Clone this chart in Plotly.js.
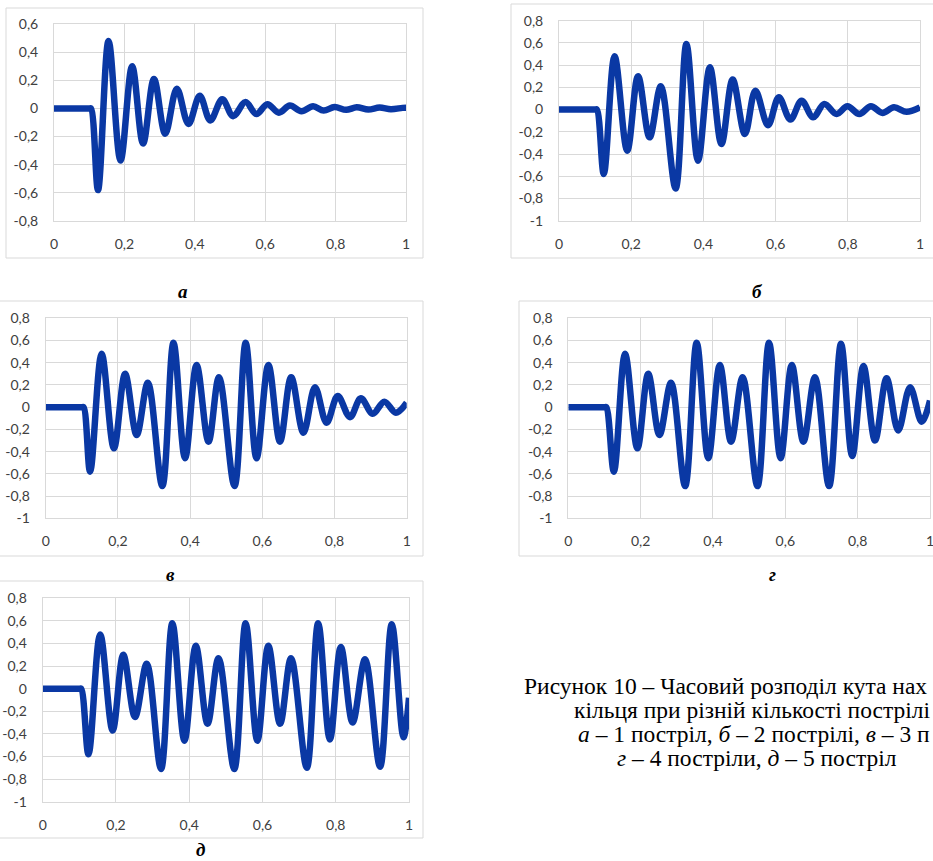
<!DOCTYPE html>
<html>
<head>
<meta charset="utf-8">
<script src="https://cdn.plot.ly/plotly-3.0.1.min.js"></script>
<style>html,body{margin:0;padding:0;background:#fff;}#chart{width:933px;height:861px;}</style>
</head>
<body>
<div id="chart"></div>
<script>
// ---- data (extrema of each curve) ----
const tA = [0, 0.05, 0.1, 0.105, 0.125, 0.155, 0.189, 0.222, 0.253, 0.284, 0.316, 0.349, 0.382, 0.414, 0.444, 0.478, 0.509, 0.544, 0.575, 0.606, 0.639, 0.670, 0.703, 0.736, 0.766, 0.797, 0.830, 0.860, 0.893, 0.925, 0.957, 0.99, 1.0];
const yA = [0, 0, 0, 0, -0.58, 0.48, -0.37, 0.30, -0.25, 0.21, -0.18, 0.14, -0.11, 0.09, -0.085, 0.065, -0.055, 0.045, -0.04, 0.03, -0.03, 0.02, -0.02, 0.015, -0.015, 0.01, -0.01, 0.008, -0.008, 0.006, -0.006, 0.004, 0.005];

const tB = [0, 0.05, 0.1, 0.105, 0.124, 0.154, 0.189, 0.219, 0.251, 0.282, 0.323, 0.353, 0.385, 0.418, 0.45, 0.481, 0.515, 0.544, 0.579, 0.609, 0.641, 0.672, 0.704, 0.735, 0.769, 0.799, 0.832, 0.864, 0.896, 0.928, 0.963, 1.0];
const yB = [0, 0, 0, 0, -0.58, 0.48, -0.37, 0.30, -0.25, 0.21, -0.71, 0.59, -0.46, 0.38, -0.31, 0.27, -0.22, 0.17, -0.14, 0.11, -0.09, 0.08, -0.07, 0.05, -0.04, 0.03, -0.04, 0.03, -0.03, 0.02, -0.02, 0.02];

const tC = [0, 0.05, 0.1, 0.105, 0.123, 0.155, 0.189, 0.22, 0.252, 0.283, 0.323, 0.354, 0.386, 0.418, 0.451, 0.48, 0.523, 0.554, 0.584, 0.617, 0.649, 0.68, 0.714, 0.746, 0.778, 0.809, 0.843, 0.873, 0.906, 0.938, 0.97, 1.0];
const yC = [0, 0, 0, 0, -0.58, 0.48, -0.37, 0.30, -0.25, 0.22, -0.71, 0.58, -0.46, 0.38, -0.31, 0.27, -0.71, 0.58, -0.46, 0.38, -0.31, 0.27, -0.23, 0.18, -0.14, 0.10, -0.09, 0.08, -0.06, 0.05, -0.05, 0.04];

const tD = [0, 0.05, 0.1, 0.105, 0.126, 0.157, 0.191, 0.221, 0.252, 0.284, 0.323, 0.355, 0.387, 0.419, 0.45, 0.482, 0.523, 0.555, 0.587, 0.618, 0.65, 0.682, 0.721, 0.754, 0.785, 0.816, 0.848, 0.88, 0.912, 0.945, 0.977, 1.0];
const yD = [0, 0, 0, 0, -0.58, 0.48, -0.37, 0.30, -0.25, 0.22, -0.71, 0.58, -0.46, 0.38, -0.31, 0.27, -0.71, 0.58, -0.46, 0.38, -0.31, 0.27, -0.71, 0.57, -0.44, 0.37, -0.30, 0.26, -0.21, 0.18, -0.13, 0.06];

const tE = [0, 0.05, 0.1, 0.105, 0.125, 0.157, 0.191, 0.22, 0.252, 0.284, 0.323, 0.354, 0.387, 0.418, 0.45, 0.48, 0.523, 0.554, 0.586, 0.616, 0.648, 0.678, 0.721, 0.752, 0.784, 0.814, 0.846, 0.88, 0.921, 0.953, 0.985, 1.0];
const yE = [0, 0, 0, 0, -0.58, 0.48, -0.37, 0.30, -0.25, 0.22, -0.71, 0.58, -0.46, 0.38, -0.31, 0.27, -0.71, 0.58, -0.46, 0.38, -0.31, 0.27, -0.70, 0.58, -0.45, 0.37, -0.30, 0.26, -0.69, 0.57, -0.43, -0.08];

const xTickVals = [0, 0.2, 0.4, 0.6, 0.8, 1];
const xTickText = ['0', '0,2', '0,4', '0,6', '0,8', '1'];
const yTickValsA = [-0.8, -0.6, -0.4, -0.2, 0, 0.2, 0.4, 0.6];
const yTickTextA = ['-0,8', '-0,6', '-0,4', '-0,2', '0', '0,2', '0,4', '0,6'];
const yTickVals = [-1, -0.8, -0.6, -0.4, -0.2, 0, 0.2, 0.4, 0.6, 0.8];
const yTickText = ['-1', '-0,8', '-0,6', '-0,4', '-0,2', '0', '0,2', '0,4', '0,6', '0,8'];

const panelLabels = ['а', 'б', 'в', 'г', 'д'];
// caption as visible in the reference (it is cut by the right page edge there)
const captionLines = [
  'Рисунок 10 – Часовий розподіл кута нах',
  'кільця при різній кількості пострілі',
  '<i>а</i> – 1 постріл, <i>б</i> – 2 пострілі, <i>в</i> – 3 п',
  '<i>г</i> – 4 постріли, <i>д</i> – 5 постріл'
];

// ---- layout helpers (pixel geometry) ----
const W = 933, H = 861;
const px = x => x / W;
const py = y => 1 - y / H;

const panels = [
  {t: tA, y: yA, plot: [54, 406, 24, 221], yr: [-0.8, 0.6], tv: yTickValsA, tt: yTickTextA, frame: [6, 423, 8, 258], lab: [183, 291]},
  {t: tB, y: yB, plot: [559, 920, 20.7, 220.7], yr: [-1, 0.8], tv: yTickVals, tt: yTickText, frame: [511, 945, 4, 258], lab: [757, 291]},
  {t: tC, y: yC, plot: [45.7, 406.7, 318.3, 518.3], yr: [-1, 0.8], tv: yTickVals, tt: yTickText, frame: [-5, 423, 301, 556], lab: [170, 574]},
  {t: tD, y: yD, plot: [568.3, 930, 318.3, 518.3], yr: [-1, 0.8], tv: yTickVals, tt: yTickText, frame: [519, 945, 301, 556], lab: [772, 574]},
  {t: tE, y: yE, plot: [42.7, 409, 598.3, 801.7], yr: [-1, 0.8], tv: yTickVals, tt: yTickText, frame: [-5, 423, 581, 838], lab: [200, 849]}
];

const tickFont = {family: 'Lato, "Open Sans", sans-serif', size: 14, color: '#404040'};
const gridC = '#d9d9d9';
const lineColor = '#0a38a4';

const data = [];
const layout = {
  width: W, height: H,
  margin: {l: 0, r: 0, t: 0, b: 0},
  paper_bgcolor: '#ffffff', plot_bgcolor: '#ffffff',
  showlegend: false,
  shapes: [], annotations: []
};

panels.forEach((p, i) => {
  const n = i === 0 ? '' : String(i + 1);
  data.push({
    x: p.t, y: p.y, xaxis: 'x' + n, yaxis: 'y' + n,
    type: 'scatter', mode: 'lines',
    line: {color: lineColor, width: 6.5, shape: 'spline', smoothing: 1},
    hoverinfo: 'skip'
  });
  layout['xaxis' + n] = {
    domain: [px(p.plot[0]), px(p.plot[1])],
    anchor: 'y' + n, range: [0, 1],
    tickmode: 'array', tickvals: xTickVals, ticktext: xTickText,
    showgrid: true, gridcolor: gridC, gridwidth: 1, zeroline: false,
    showline: true, linecolor: gridC, mirror: true,
    ticks: '', ticklabelstandoff: 10, ticklabeloverflow: 'allow', tickfont: tickFont, fixedrange: true
  };
  layout['yaxis' + n] = {
    domain: [py(p.plot[3]), py(p.plot[2])],
    anchor: 'x' + n, range: p.yr,
    tickmode: 'array', tickvals: p.tv, ticktext: p.tt,
    showgrid: true, gridcolor: gridC, gridwidth: 1, zeroline: false,
    showline: true, linecolor: gridC, mirror: true,
    ticks: '', ticklabelstandoff: 12, tickfont: tickFont, fixedrange: true
  };
  layout.shapes.push({
    type: 'rect', xref: 'paper', yref: 'paper', layer: 'below',
    x0: px(p.frame[0]), x1: px(p.frame[1]), y0: py(p.frame[3]), y1: py(p.frame[2]),
    line: {color: gridC, width: 1}, fillcolor: 'rgba(0,0,0,0)'
  });
  layout.annotations.push({
    xref: 'paper', yref: 'paper', x: px(p.lab[0]), y: py(p.lab[1]),
    xanchor: 'center', yanchor: 'middle', showarrow: false,
    text: '<b><i>' + panelLabels[i] + '</i></b>',
    font: {family: '"Liberation Serif", "Times New Roman", serif', size: 19, color: '#000'}
  });
});

const capX = [522, 572, 576, 615];
const capY = [686, 710, 734, 758];
captionLines.forEach((txt, k) => {
  layout.annotations.push({
    xref: 'paper', yref: 'paper', x: px(capX[k]), y: py(capY[k]),
    xanchor: 'left', yanchor: 'middle', showarrow: false, text: txt,
    font: {family: '"Liberation Serif", "Times New Roman", serif', size: 23.5, color: '#000'}
  });
});

Plotly.newPlot('chart', data, layout, {staticPlot: true, displayModeBar: false});
</script>
</body>
</html>
